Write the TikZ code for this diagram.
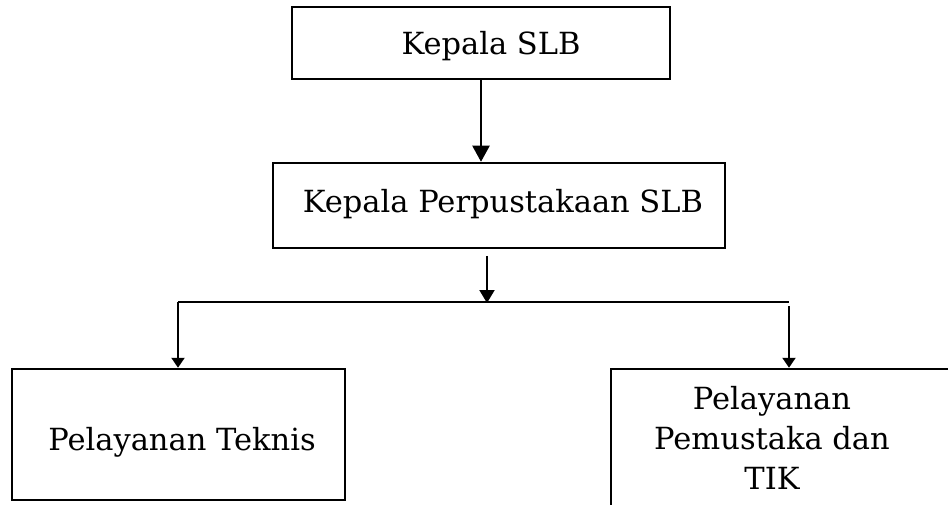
\documentclass[tikz,border=0pt]{standalone}
\usepackage{fontspec}
\setmainfont{DejaVu Serif}
\usetikzlibrary{arrows.meta}
\begin{document}
\begin{tikzpicture}[x=1pt,y=-1pt,
  box/.style={draw,line width=2.5pt,rectangle,inner sep=0pt},
  lbl/.style={inner sep=0pt,font=\fontsize{30.5}{40}\selectfont,align=center},
  conn/.style={line width=2.1pt},
  arr/.style={conn,-{Triangle[length=16pt,width=17pt]}},
  sarr/.style={conn,-{Triangle[length=10pt,width=13pt]}}]
\useasboundingbox (0,0) rectangle (948,505);
\clip (0,0) rectangle (948,505);
% boxes
\node[box,minimum width=378pt,minimum height=72pt] (b1) at (481,43) {};
\node[box,minimum width=452pt,minimum height=85pt] (b2) at (499,205.5) {};
\node[box,minimum width=333pt,minimum height=131pt] (b3) at (178.5,434.5) {};
\node[box,minimum width=360pt,minimum height=160pt] (b4) at (791,449) {};
% labels
\node[lbl] (t1) at (491,46) {Kepala SLB};
\node[lbl] (t2) at (503,204) {Kepala Perpustakaan SLB};
\node[lbl] (t3) at (182,442) {Pelayanan Teknis};
\node[lbl,anchor=north] (t4) at (772,386) {Pelayanan\\Pemustaka dan\\TIK};
% connector points
\coordinate (s2) at (487,256);
\coordinate (j) at (487,303);
\coordinate (hl) at (178,302);
\coordinate (hr) at (789,302);
\coordinate (vr) at (789,306);
% connectors
\draw[arr] (b1.south -| 481,0) -- (b2.north -| 481,0);
\draw[arr,-{Triangle[length=13pt,width=15pt]}] (s2) -- (j);
\draw[conn] (hl) -- (hr);
\draw[sarr] (hl) -- (b3.north -| hl);
\draw[sarr] (vr) -- (b4.north -| vr);
\end{tikzpicture}
\end{document}
